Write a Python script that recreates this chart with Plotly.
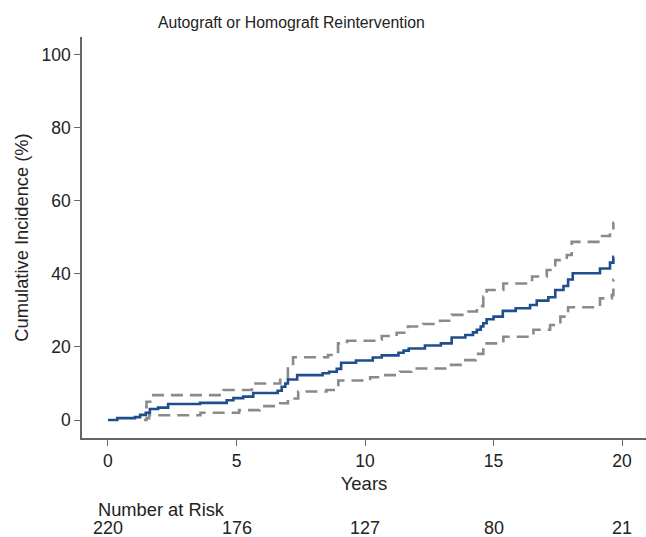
import plotly.graph_objects as go

# Cumulative incidence estimate (step change points)
est_years = [0, 0.36, 1.05, 1.25, 1.47, 1.63, 1.95, 2.34, 3.58, 4.62, 4.88, 5.26, 5.65, 6.6, 6.76, 6.9, 7.0,
             7.36, 8.35, 8.6, 8.9, 9.07, 9.65, 10.3, 10.65, 11.3, 11.5, 11.7, 12.33, 12.95, 13.37, 13.9, 14.2,
             14.35, 14.5, 14.6, 14.73, 15.0, 15.36, 15.86, 16.42, 16.68, 17.13, 17.4, 17.72, 17.9, 18.08,
             19.14, 19.53, 19.66, 19.68]
est_pct = [0, 0.5, 0.8, 1.4, 2.0, 3.0, 3.4, 4.4, 4.7, 5.4, 6.0, 6.4, 7.4, 8.0, 9.1, 10.0, 11.1,
           12.3, 12.8, 13.2, 14.0, 15.7, 16.3, 17.1, 17.7, 18.4, 19.0, 19.6, 20.4, 21.0, 22.6, 23.3, 24.0,
           24.7, 25.6, 26.5, 27.6, 28.3, 29.9, 30.6, 31.5, 32.7, 33.6, 35.6, 36.7, 38.5, 40.2,
           41.5, 43.1, 44.7, 44.7]

# Upper 95% confidence bound
up_years = [1.44, 1.5, 1.7, 4.5, 5.6, 6.7, 7.0, 7.2, 8.56, 8.95, 9.3, 10.5, 10.65, 11.23, 11.67, 12.26,
            12.92, 13.37, 13.9, 14.35, 14.6, 14.73, 15.38, 16.5, 17.07, 17.4, 17.85, 18.04, 19.14, 19.53,
            19.66, 19.68]
up_pct = [3.5, 5.0, 6.8, 8.2, 10.0, 11.5, 14.5, 17.2, 17.8, 21.0, 21.7, 22.0, 23.0, 23.9, 25.6, 26.3,
          27.2, 28.8, 29.7, 31.2, 33.8, 35.6, 37.4, 39.3, 41.1, 43.8, 45.2, 48.8, 50.4, 51.6,
          54.0, 54.0]

# Lower 95% confidence bound
lo_years = [1.4, 1.5, 1.6, 3.6, 5.1, 5.9, 6.7, 7.0, 7.4, 8.5, 8.96, 10.2, 10.6, 11.36, 11.8, 13.2, 13.8,
            14.3, 14.6, 15.38, 16.55, 17.2, 17.6, 17.9, 19.14, 19.6, 19.66, 19.68]
lo_pct = [0.0, 0.5, 1.3, 2.0, 2.7, 3.8, 4.6, 5.9, 7.8, 8.2, 10.8, 11.7, 12.3, 13.2, 14.1, 15.1, 16.4,
          18.1, 21.0, 22.8, 24.7, 26.0, 28.3, 30.9, 33.3, 34.2, 38.4, 38.4]

risk_years = [0, 5, 10, 15, 20]
risk_counts = [220, 176, 127, 80, 21]

FONT = "Liberation Sans, Arial, sans-serif"
GRAY = "#8a8a8a"
BLUE = "#1f4e8c"
TXT = "#222"

fig = go.Figure()
fig.add_trace(go.Scatter(x=up_years, y=up_pct, mode="lines", line_shape="hv",
                         line=dict(color=GRAY, width=2.6, dash="12px,7px"), showlegend=False))
fig.add_trace(go.Scatter(x=lo_years, y=lo_pct, mode="lines", line_shape="hv",
                         line=dict(color=GRAY, width=2.6, dash="12px,7px"), showlegend=False))
fig.add_trace(go.Scatter(x=est_years, y=est_pct, mode="lines", line_shape="hv",
                         line=dict(color=BLUE, width=2.6), showlegend=False))

annotations = [dict(x=xv, y=-0.2235, xref="x", yref="paper", text=str(n), showarrow=False,
                    xanchor="center", yanchor="middle", font=dict(size=18, color=TXT, family=FONT))
               for xv, n in zip(risk_years, risk_counts)]
annotations.append(dict(x=-0.45, y=-0.1775, xref="x", yref="paper", text="Number at Risk", showarrow=False,
                        xanchor="left", yanchor="middle", font=dict(size=18.3, color=TXT, family=FONT)))

fig.update_layout(
    width=646, height=537,
    margin=dict(l=82, r=0, t=37, b=99, autoexpand=False),
    paper_bgcolor="white", plot_bgcolor="white",
    font=dict(family=FONT, size=16, color=TXT),
    title=dict(text="Autograft or Homograft Reintervention", x=0.451, xref="container", xanchor="center",
               y=1 - 22 / 537, yref="container", yanchor="middle",
               font=dict(size=15.8, color=TXT, family=FONT)),
    xaxis=dict(range=[-1.01, 20.93], tickvals=[0, 5, 10, 15, 20], showgrid=False, zeroline=False,
               showline=True, linecolor="#666", linewidth=1.5, ticks="outside", ticklen=6,
               tickcolor="#666", tickwidth=1, tickfont=dict(size=17.5), automargin=False,
               title=dict(text="Years", standoff=7, font=dict(size=18.5))),
    yaxis=dict(range=[-4.93, 104.9], tickvals=[0, 20, 40, 60, 80, 100], showgrid=False, zeroline=False,
               showline=True, linecolor="#666", linewidth=1.5, ticks="outside", ticklen=6,
               tickcolor="#666", tickwidth=1, tickfont=dict(size=17.5), automargin=False,
               title=dict(text="Cumulative Incidence (%)", standoff=8, font=dict(size=18.3))),
    annotations=annotations,
)

fig.write_html("out.html", config={"displayModeBar": False},
               post_script="document.body.style.margin='0px';document.body.style.overflow='hidden';")
